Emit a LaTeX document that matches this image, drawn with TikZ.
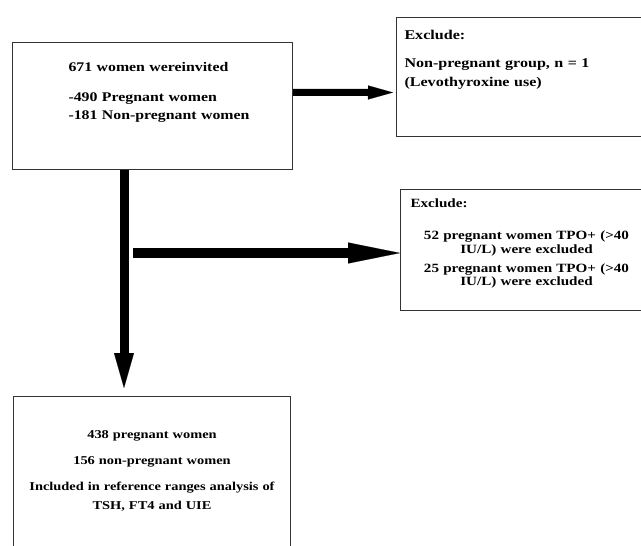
\documentclass[tikz,border=0pt]{standalone}
\usepackage{fontspec}
\setmainfont{Liberation Serif}[FakeStretch=1.2]
\usetikzlibrary{arrows.meta}

\begin{document}
\begin{tikzpicture}[x=1pt, y=-1pt, box/.style={draw=black!80, line width=1pt, anchor=north west, font=\fontsize{13.2}{18}\selectfont\bfseries}, link/.style={line width=#1, draw=black}]
\path[use as bounding box, clip](0,0) rectangle (641,546);
\node[box, align=left, text width=200pt, inner xsep=40pt, inner ysep=20pt, text depth=77.7pt](0) at (12,42){\hspace*{16pt}671 women wereinvited\\[12pt]\hspace*{16pt}-490 Pregnant women\\\hspace*{16pt}-181 Non-pregnant women};
\node[box, align=left, text width=260pt, inner xsep=8pt, inner ysep=13pt, text depth=83.7pt, font=\fontsize{13.4}{19}\selectfont\bfseries](1) at (396,17){Exclude:\\[9pt]Non-pregnant group, n = 1\\(Levothyroxine use)};
\node[box, align=center, text width=232pt, inner xsep=10pt, inner ysep=9.5pt, text depth=92.9pt, font=\fontsize{12.6}{13.5}\selectfont\bfseries](2) at (400,189){Exclude:\hfill\mbox{}\\[18.5pt]52 pregnant women TPO+ (>40\\IU/L) were excluded\\[5.5pt]25 pregnant women TPO+ (>40\\IU/L) were excluded};
\node[box, align=center, text width=257pt, inner xsep=10pt, inner ysep=33.7pt, text depth=98.3pt, font=\fontsize{12}{19}\selectfont\bfseries](3) at (13,396){438 pregnant women\\[7pt]156 non-pregnant women\\[7pt]Included in reference ranges analysis of\\TSH, FT4 and UIE};
\coordinate (4) at (133,253);
\draw[link=7pt, -{Triangle[length=25pt, width=14pt, line width=0.1pt]}, shorten >=3pt]([yshift=13.5pt]0.east)to([yshift=-15.5pt]1.west);
\draw[link=9pt, -{Triangle[length=35pt, width=20pt, line width=0.1pt]}, shorten >=8pt]([xshift=-28.5pt]0.south)to([xshift=-28pt]3.north);
\draw[link=10pt, -{Triangle[length=52pt, width=21pt, line width=0.1pt]}](4)to(4 -| 2.west);
\end{tikzpicture}
\end{document}
